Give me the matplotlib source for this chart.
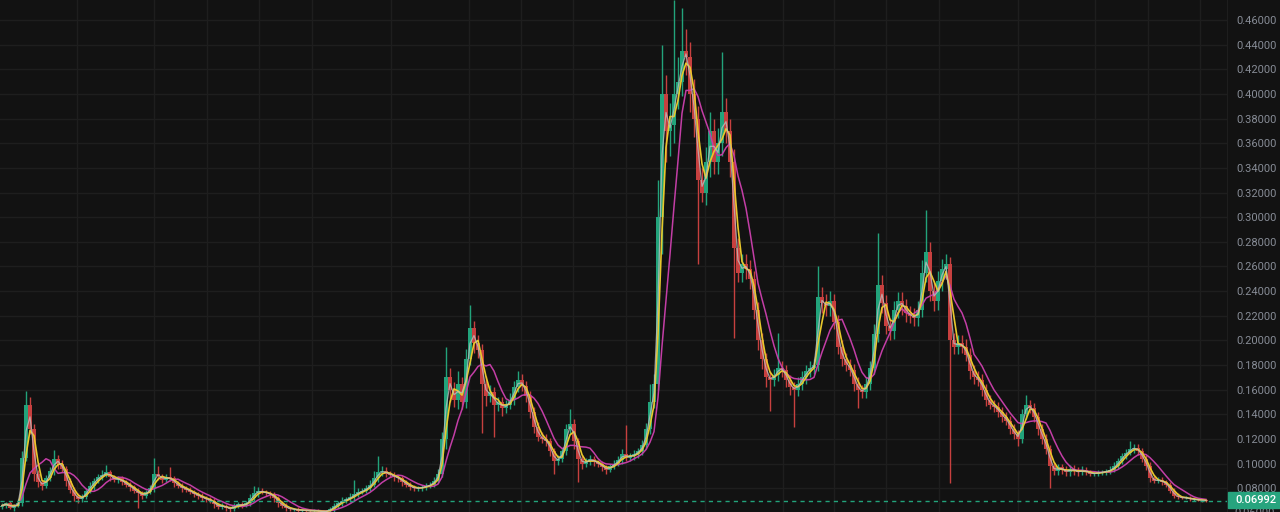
import numpy as np
import pandas as pd
import matplotlib
matplotlib.use("Agg")
import matplotlib.pyplot as plt
from matplotlib.patches import Rectangle

# close prices, one candle every ~4 px of the reference
closes = [
    0.066, 0.068, 0.064, 0.066, 0.068, 0.105, 0.148, 0.128, 0.092, 0.085,
    0.082, 0.088, 0.094, 0.104, 0.100, 0.096, 0.086, 0.079, 0.074, 0.071,
    0.073, 0.078, 0.082, 0.086, 0.089, 0.091, 0.093, 0.089, 0.087, 0.088,
    0.085, 0.083, 0.081, 0.078, 0.076, 0.074, 0.077, 0.080, 0.092, 0.090,
    0.087, 0.089, 0.088, 0.084, 0.082, 0.080, 0.079, 0.077, 0.075, 0.074,
    0.072, 0.071, 0.070, 0.067, 0.065, 0.066, 0.064, 0.063, 0.066, 0.067,
    0.066, 0.068, 0.072, 0.076, 0.078, 0.077, 0.076, 0.075, 0.072, 0.068,
    0.066, 0.064, 0.063, 0.063, 0.062, 0.0625, 0.062, 0.0615, 0.062, 0.0615,
    0.061, 0.0615, 0.063, 0.066, 0.068, 0.070, 0.071, 0.073, 0.075, 0.077,
    0.078, 0.080, 0.083, 0.088, 0.093, 0.094, 0.092, 0.091, 0.089, 0.088,
    0.085, 0.083, 0.081, 0.080, 0.080, 0.081, 0.082, 0.083, 0.086, 0.092,
    0.120, 0.170, 0.160, 0.152, 0.165, 0.150, 0.185, 0.210, 0.198, 0.192,
    0.165, 0.155, 0.158, 0.148, 0.150, 0.145, 0.148, 0.152, 0.162, 0.168,
    0.163, 0.155, 0.142, 0.130, 0.122, 0.120, 0.118, 0.110, 0.102, 0.104,
    0.110, 0.128, 0.132, 0.118, 0.104, 0.100, 0.102, 0.104, 0.101, 0.100,
    0.097, 0.095, 0.098, 0.100, 0.103, 0.108, 0.105, 0.106, 0.108, 0.110,
    0.115, 0.128, 0.150, 0.165, 0.300, 0.400, 0.370, 0.375, 0.400, 0.410,
    0.435, 0.430, 0.400, 0.380, 0.330, 0.320, 0.345, 0.370, 0.345, 0.360,
    0.385, 0.370, 0.345, 0.275, 0.255, 0.262, 0.258, 0.250, 0.225, 0.200,
    0.185, 0.170, 0.168, 0.172, 0.178, 0.176, 0.168, 0.162, 0.160, 0.165,
    0.170, 0.175, 0.178, 0.180, 0.235, 0.230, 0.228, 0.232, 0.215, 0.195,
    0.185, 0.180, 0.176, 0.165, 0.160, 0.158, 0.165, 0.178, 0.205, 0.245,
    0.230, 0.212, 0.208, 0.225, 0.232, 0.228, 0.222, 0.220, 0.218, 0.225,
    0.255, 0.272, 0.240, 0.232, 0.248, 0.258, 0.262, 0.200, 0.195, 0.198,
    0.195, 0.188, 0.175, 0.170, 0.168, 0.160, 0.152, 0.148, 0.146, 0.142,
    0.138, 0.135, 0.128, 0.124, 0.120, 0.140, 0.148, 0.145, 0.138, 0.128,
    0.120, 0.112, 0.098, 0.094, 0.097, 0.095, 0.093, 0.096, 0.094, 0.093,
    0.095, 0.093, 0.092, 0.092, 0.093, 0.093, 0.094, 0.095, 0.098, 0.102,
    0.106, 0.109, 0.112, 0.113, 0.110, 0.104, 0.098, 0.088, 0.086, 0.087,
    0.085, 0.083, 0.078, 0.074, 0.073, 0.072, 0.0725, 0.071, 0.071, 0.0705,
    0.0702, 0.06992,
]
first_open = 0.065

# upper / lower wick beyond the body, in thousandths
wick_up = [
    2, 1, 2, 1, 3, 5, 11, 6, 4, 3,
    2, 3, 3, 7, 3, 3, 2, 2, 2, 2,
    2, 2, 3, 2, 3, 4, 6, 2, 2, 2,
    2, 2, 2, 2, 2, 2, 2, 3, 13, 6,
    2, 3, 8, 2, 2, 2, 2, 2, 2, 2,
    2, 2, 2, 2, 1, 2, 1, 1, 2, 2,
    2, 2, 3, 6, 3, 2, 2, 2, 2, 2,
    2, 2, 1, 1, 2, 1, 1, 1, 1, 1,
    1, 1, 2, 2, 2, 3, 2, 3, 12, 3,
    2, 3, 4, 6, 13, 4, 3, 2, 2, 2,
    2, 2, 2, 2, 2, 2, 2, 2, 3, 4,
    6, 25, 8, 6, 10, 5, 8, 19, 6, 6,
    5, 6, 6, 4, 4, 4, 4, 5, 5, 7,
    5, 4, 4, 4, 4, 4, 4, 3, 3, 3,
    3, 4, 12, 4, 3, 3, 3, 3, 2, 2,
    2, 2, 2, 3, 3, 4, 23, 3, 3, 3,
    4, 5, 15, 8, 30, 40, 15, 18, 76, 20,
    35, 18, 12, 12, 10, 10, 12, 15, 10, 12,
    49, 12, 10, 10, 8, 8, 8, 7, 6, 6,
    6, 5, 5, 5, 28, 5, 4, 4, 4, 5,
    5, 5, 5, 5, 25, 8, 8, 8, 6, 6,
    5, 5, 5, 5, 5, 4, 5, 5, 8, 42,
    8, 7, 6, 7, 7, 7, 6, 6, 6, 7,
    10, 34, 8, 7, 8, 8, 8, 6, 6, 6,
    6, 6, 6, 5, 5, 5, 5, 4, 4, 4,
    4, 4, 4, 4, 3, 4, 8, 4, 4, 4,
    4, 4, 3, 3, 3, 3, 3, 3, 3, 3,
    3, 2, 2, 2, 2, 2, 2, 3, 3, 3,
    3, 3, 6, 3, 3, 3, 3, 3, 2, 2,
    2, 2, 2, 2, 2, 1, 1, 1, 1, 1, 1, 1,
]
wick_dn = [
    2, 2, 1, 2, 1, 2, 3, 4, 6, 4,
    3, 2, 2, 3, 4, 3, 4, 3, 4, 3,
    2, 2, 2, 3, 2, 2, 2, 3, 2, 3,
    2, 2, 3, 2, 12, 3, 2, 2, 3, 3,
    3, 2, 2, 3, 2, 3, 2, 2, 2, 3,
    2, 2, 2, 3, 2, 2, 2, 2, 1, 2,
    2, 1, 2, 2, 3, 2, 2, 3, 3, 3,
    2, 2, 1, 1, 1, 1, 1, 1, 1, 1,
    1, 1, 1, 2, 2, 2, 2, 2, 3, 2,
    2, 2, 2, 2, 3, 3, 3, 2, 3, 3,
    3, 2, 2, 2, 2, 2, 2, 2, 2, 2,
    3, 8, 10, 6, 8, 6, 5, 5, 8, 6,
    40, 8, 5, 26, 5, 6, 4, 4, 4, 4,
    4, 5, 5, 5, 4, 3, 4, 4, 10, 3,
    3, 3, 4, 6, 19, 4, 3, 3, 3, 3,
    3, 3, 2, 2, 2, 3, 3, 3, 3, 3,
    3, 3, 4, 5, 5, 30, 25, 20, 15, 12,
    12, 15, 15, 15, 68, 8, 10, 12, 10, 10,
    10, 10, 12, 73, 8, 8, 8, 8, 8, 8,
    8, 8, 25, 5, 5, 6, 6, 6, 30, 5,
    5, 5, 5, 5, 5, 8, 8, 8, 6, 6,
    6, 5, 5, 6, 15, 5, 5, 5, 5, 6,
    8, 7, 8, 7, 7, 7, 7, 6, 6, 6,
    6, 8, 8, 8, 7, 8, 8, 116, 6, 6,
    5, 5, 6, 5, 5, 5, 5, 4, 4, 4,
    4, 4, 4, 4, 6, 3, 4, 4, 4, 5,
    4, 4, 18, 3, 3, 3, 3, 3, 3, 3,
    2, 2, 2, 2, 2, 2, 2, 2, 2, 2,
    2, 2, 2, 3, 3, 3, 3, 3, 2, 2,
    2, 2, 2, 2, 2, 1, 1, 1, 1, 1, 1, 1,
]

last_price = 0.06992
price_ticks = [0.08, 0.10, 0.12, 0.14, 0.16, 0.18, 0.20, 0.22, 0.24, 0.26,
               0.28, 0.30, 0.32, 0.34, 0.36, 0.38, 0.40, 0.42, 0.44, 0.46]
# time grid lines, in reference pixels
time_grid_px = [77, 154, 207, 259, 312, 391, 469, 521, 573, 626,
                705, 783, 834, 886, 939, 1018, 1095, 1148, 1200]

BG = '#121212'
GRID = '#1e1e1e'
UP = '#22a37b'
DOWN = '#c7403f'
TXT = '#878c96'

W, H = 1280, 512
PLOT_R = 1227

c = np.array(closes)
o = np.concatenate([[first_open], c[:-1]])
hi = np.maximum(o, c) + np.array(wick_up) / 1000.0
lo = np.minimum(o, c) - np.array(wick_dn) / 1000.0
idx = np.arange(len(c))

s = pd.Series(c)
ma_fast = s.rolling(2, min_periods=1).mean()
ma_mid = s.rolling(3, min_periods=1).mean()
ma_slow = s.rolling(7, min_periods=1).mean()

def px_to_idx(px):
    return (px - 2) / 4.0

fig = plt.figure(figsize=(W / 100, H / 100), dpi=100, facecolor=BG)
ax = fig.add_axes([0, 0, PLOT_R / W, 1])
ax.set_facecolor(BG)

ax.set_xlim(px_to_idx(0), px_to_idx(PLOT_R))
ax.set_ylim(0.0608, 0.4762)

for t in price_ticks:
    ax.axhline(t, color=GRID, lw=1, zorder=0)
for p in time_grid_px:
    ax.axvline(px_to_idx(p), color=GRID, lw=1, zorder=0)

up = c >= o
colors = np.where(up, UP, DOWN)
ax.vlines(idx, lo, hi, colors=colors, lw=1.0, zorder=2)
body_h = np.maximum(np.abs(c - o), 0.0006)
ax.bar(idx, body_h, bottom=np.minimum(o, c), width=0.8, color=colors,
       edgecolor='none', zorder=3)

ax.plot(idx, ma_slow, color='#c33ea6', lw=1.1, zorder=4)
ax.plot(idx, ma_mid, color='#e8c82c', lw=1.2, zorder=5)
ax.plot(idx, ma_fast, color='#bdbdbd', lw=0.9, alpha=0.8, zorder=6)

ax.axhline(last_price, color=UP, lw=1, ls=(0, (3, 3)), zorder=7)

for sp in ['top', 'left', 'bottom']:
    ax.spines[sp].set_visible(False)
ax.spines['right'].set_color('#1e1e1e')
ax.set_xticks([])
ax.yaxis.tick_right()
ax.set_yticks(price_ticks)
ax.set_yticklabels([f'{t:.5f}' for t in price_ticks])
ax.tick_params(axis='y', length=0, pad=7, labelsize=8, labelcolor=TXT)
for lab in ax.get_yticklabels():
    lab.set_fontfamily('Roboto')

# partially visible label under the price box, as in the reference
ax.text(1 + 7 / PLOT_R, 0.06, '0.06000', transform=ax.get_yaxis_transform(),
        ha='left', va='center', fontsize=8, color=TXT, family='Roboto',
        clip_on=False)

# current price box
box_y = 1 - 508 / H
fig.patches.append(Rectangle((1228 / W, box_y), (W - 1228) / W, 16 / H,
                             transform=fig.transFigure, color='#27a47e',
                             zorder=10))
fig.text(1235 / W, box_y + 8 / H, '0.06992', color='white', fontsize=8,
         family='Roboto', fontweight='medium', ha='left', va='center',
         zorder=11)

fig.savefig('out.png', dpi=100, facecolor=BG)
